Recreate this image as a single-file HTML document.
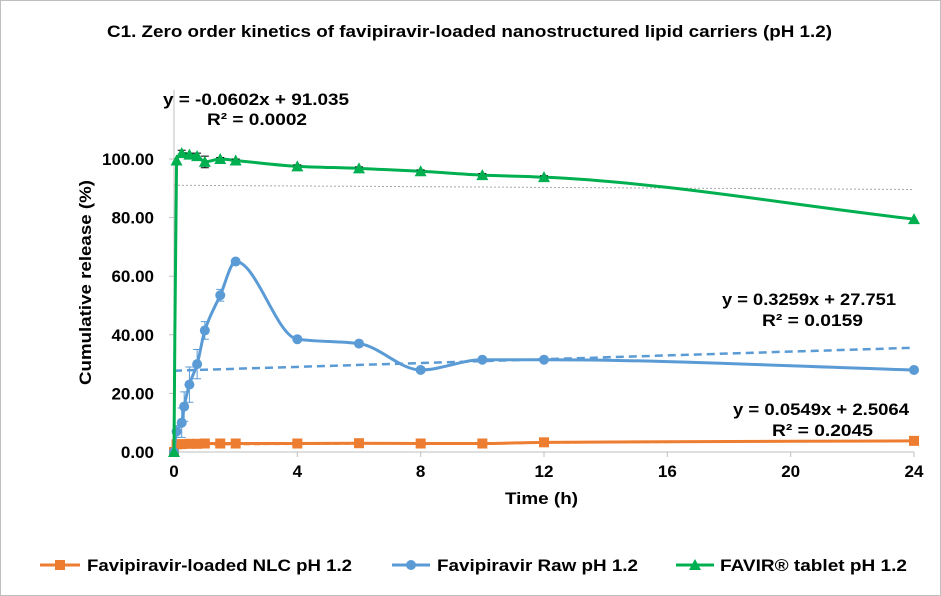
<!DOCTYPE html>
<html><head><meta charset="utf-8"><style>
html,body{margin:0;padding:0;background:#fff}
svg{display:block;font-family:"Liberation Sans",Arial,sans-serif}
</style></head><body>
<svg id="c" width="941" height="596">
<rect x="0.5" y="0.5" width="940" height="595" fill="#fff" stroke="#bfbfbf"/>
<text x="107" y="37" textLength="725" lengthAdjust="spacingAndGlyphs" font-size="17" font-weight="bold">C1. Zero order kinetics of favipiravir-loaded nanostructured lipid carriers (pH 1.2)</text>
<g id="axes"></g>
<g id="marks"></g>
<text x="91" y="385" textLength="205" lengthAdjust="spacingAndGlyphs" font-size="17" font-weight="bold" transform="rotate(-90 91 385)">Cumulative release (%)</text>
<text x="505" y="504" textLength="73" lengthAdjust="spacingAndGlyphs" font-size="17" font-weight="bold">Time (h)</text>
<text x="163" y="105" textLength="186" lengthAdjust="spacingAndGlyphs" font-size="17" font-weight="bold">y = -0.0602x + 91.035</text>
<text x="207" y="125" textLength="100" lengthAdjust="spacingAndGlyphs" font-size="17" font-weight="bold">R² = 0.0002</text>
<text x="722" y="305" textLength="174" lengthAdjust="spacingAndGlyphs" font-size="17" font-weight="bold">y = 0.3259x + 27.751</text>
<text x="762" y="326" textLength="101" lengthAdjust="spacingAndGlyphs" font-size="17" font-weight="bold">R² = 0.0159</text>
<text x="733" y="415" textLength="176" lengthAdjust="spacingAndGlyphs" font-size="17" font-weight="bold">y = 0.0549x + 2.5064</text>
<text x="772" y="436" textLength="101" lengthAdjust="spacingAndGlyphs" font-size="17" font-weight="bold">R² = 0.2045</text>
<g>
<g><line x1="40" y1="565" x2="80" y2="565" stroke="#ed7d31" stroke-width="3"/><rect x="55" y="560" width="10" height="10" fill="#ed7d31"/><text x="87" y="571" textLength="265" lengthAdjust="spacingAndGlyphs" font-size="17" font-weight="bold">Favipiravir-loaded NLC pH 1.2</text></g>
<g><line x1="392" y1="565" x2="430" y2="565" stroke="#5b9bd5" stroke-width="3"/><circle cx="411" cy="565" r="5" fill="#5b9bd5"/><text x="437" y="571" textLength="201" lengthAdjust="spacingAndGlyphs" font-size="17" font-weight="bold">Favipiravir Raw pH 1.2</text></g>
<g><line x1="676" y1="565" x2="714" y2="565" stroke="#00b050" stroke-width="3"/><polygon points="695,559 701,570 689,570" fill="#00b050"/><text x="720" y="571" textLength="187" lengthAdjust="spacingAndGlyphs" font-size="17" font-weight="bold">FAVIR® tablet pH 1.2</text></g>
</g>
</svg>
<script>
const xTicks=[0,4,8,12,16,20,24];
const yTicks=[0,20,40,60,80,100];
const yTickLabels=["0.00","20.00","40.00","60.00","80.00","100.00"];
const tNlc=[0,0.083,0.25,0.5,0.75,1,1.5,2,4,6,8,10,12,24];
const vNlc=[0,2.6,2.7,2.8,2.8,2.9,2.9,2.9,2.9,3.0,2.9,2.9,3.3,3.8];
const tRaw=[0,0.083,0.25,0.33,0.5,0.75,1,1.5,2,4,6,8,10,12,24];
const vRaw=[0,7,10,15.5,23,30,41.5,53.5,65,38.5,37,28,31.5,31.5,28];
const eRaw=[0,2,5,5,6,5,3,2,0,0,0,0,0,0,0];
const tTab=[0,0.083,0.25,0.5,0.75,1,1.5,2,4,6,8,10,12,24];
const vTab=[0,99.5,102,101.5,101,99,100,99.5,97.5,96.8,95.8,94.5,93.8,79.5];
const eTab=[0,0,1,0.5,1,2,0.5,0.5,0.5,0.5,0.5,0.5,0.5,0];
const trendSlope=[0.0549,0.3259,-0.0602];
const trendIntercept=[2.5064,27.751,91.035];
const X0=174,X1=914,Y0=452,Y1=159;
const sx=v=>X0+(X1-X0)*v/24;
const sy=v=>Y0-(Y0-Y1)*v/100;
const NS="http://www.w3.org/2000/svg";
function mk(tag,attrs,parent){const e=document.createElementNS(NS,tag);for(const k in attrs)e.setAttribute(k,attrs[k]);parent.appendChild(e);return e;}
const ax=document.getElementById('axes'),mg=document.getElementById('marks');
let a=mk('line',{x1:X0,y1:Y0,x2:X1,y2:Y0,stroke:'#bfbfbf','stroke-width':1},ax);

a=mk('line',{x1:X0,y1:Y0,x2:X0,y2:90,stroke:'#bfbfbf','stroke-width':1},ax);

xTicks.forEach(t=>{mk('line',{x1:sx(t),y1:Y0,x2:sx(t),y2:Y0+5,stroke:'#bfbfbf'},ax);
 const tx=mk('text',{x:sx(t),y:Y0+25,'font-size':17,'font-weight':'bold','text-anchor':'middle'},ax);tx.textContent=t;
 });
yTicks.forEach((t,i)=>{mk('line',{x1:X0-5,y1:sy(t),x2:X0,y2:sy(t),stroke:'#bfbfbf'},ax);
 const tx=mk('text',{x:X0-20,y:sy(t)+6,'font-size':17,'font-weight':'bold','text-anchor':'end'},ax);tx.textContent=yTickLabels[i];
 });
function smooth(ts,vs){const p=ts.map((t,i)=>[sx(t),sy(vs[i])]);const n=p.length;
 const d=[],m=[];for(let i=0;i<n-1;i++)d.push((p[i+1][1]-p[i][1])/(p[i+1][0]-p[i][0]));
 for(let i=0;i<n;i++){if(i===0)m.push(d[0]);else if(i===n-1)m.push(d[n-2]);else if(d[i-1]*d[i]<=0)m.push(0);else{const h0=p[i][0]-p[i-1][0],h1=p[i+1][0]-p[i][0];m.push(3*(h0+h1)/((2*h1+h0)/d[i-1]+(h1+2*h0)/d[i]));}}
 let s='M'+p[0][0]+','+p[0][1];
 for(let i=0;i<n-1;i++){const h=(p[i+1][0]-p[i][0])/3;s+=' C'+(p[i][0]+h)+','+(p[i][1]+m[i]*h)+' '+(p[i+1][0]-h)+','+(p[i+1][1]-m[i+1]*h)+' '+p[i+1][0]+','+p[i+1][1];}
 return s;}
const tcol=['#ed7d31','#5b9bd5','#a6a6a6'],tdash=['6,4','8,5','2,2'],tw=[2,2.5,1],tnames=['trendline-nlc','trendline-raw','trendline-tablet'];
[0,1,2].forEach(i=>{const l=mk('line',{x1:sx(0),y1:sy(trendIntercept[i]),x2:sx(24),y2:sy(trendIntercept[i]+24*trendSlope[i]),stroke:tcol[i],'stroke-width':tw[i],'stroke-dasharray':tdash[i]},mg);
 });
function series(ts,vs,es,col,name,shape){
 const g=mk('g',{},mg);
 mk('path',{d:smooth(ts,vs),fill:'none',stroke:col,'stroke-width':3},g);
 ts.forEach((t,i)=>{const x=sx(t),y=sy(vs[i]);
  if(es&&es[i]){const e1=sy(vs[i]+es[i]),e2=sy(vs[i]-es[i]);const ec=shape==='tri'?'#000':col;
   mk('path',{d:`M${x},${e1}V${e2}M${x-4},${e1}H${x+4}M${x-4},${e2}H${x+4}`,stroke:ec,'stroke-width':1,fill:'none'},g);}
  let m;
  if(shape==='sq')m=mk('rect',{x:x-5,y:y-5,width:10,height:10,fill:col},g);
  else if(shape==='circ')m=mk('circle',{cx:x,cy:y,r:5,fill:col},g);
  else m=mk('polygon',{points:`${x},${y-6} ${x+6},${y+5} ${x-6},${y+5}`,fill:col},g);
  });
}
series(tNlc,vNlc,null,'#ed7d31','series-nlc','sq');
series(tRaw,vRaw,eRaw,'#5b9bd5','series-raw','circ');
series(tTab,vTab,eTab,'#00b050','series-tablet','tri');
</script>
</body></html>
